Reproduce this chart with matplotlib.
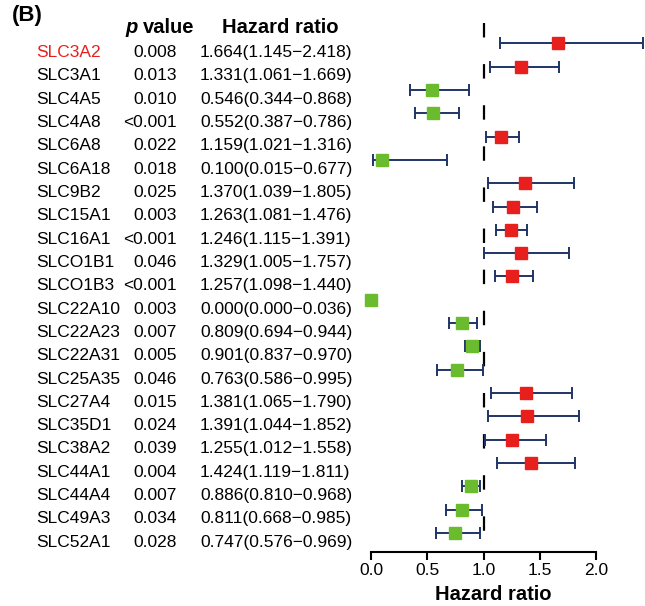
import matplotlib
matplotlib.use("Agg")
import matplotlib.pyplot as plt
from matplotlib.transforms import blended_transform_factory

plt.rcParams['font.family'] = ['Liberation Sans', 'DejaVu Sans']

genes = ["SLC3A2", "SLC3A1", "SLC4A5", "SLC4A8", "SLC6A8", "SLC6A18", "SLC9B2",
         "SLC15A1", "SLC16A1", "SLCO1B1", "SLCO1B3", "SLC22A10", "SLC22A23",
         "SLC22A31", "SLC25A35", "SLC27A4", "SLC35D1", "SLC38A2", "SLC44A1",
         "SLC44A4", "SLC49A3", "SLC52A1"]
pvals = ["0.008", "0.013", "0.010", "<0.001", "0.022", "0.018", "0.025", "0.003",
         "<0.001", "0.046", "<0.001", "0.003", "0.007", "0.005", "0.046", "0.015",
         "0.024", "0.039", "0.004", "0.007", "0.034", "0.028"]
hr = [1.664, 1.331, 0.546, 0.552, 1.159, 0.100, 1.370, 1.263, 1.246, 1.329, 1.257,
      0.000, 0.809, 0.901, 0.763, 1.381, 1.391, 1.255, 1.424, 0.886, 0.811, 0.747]
lo = [1.145, 1.061, 0.344, 0.387, 1.021, 0.015, 1.039, 1.081, 1.115, 1.005, 1.098,
      0.000, 0.694, 0.837, 0.586, 1.065, 1.044, 1.012, 1.119, 0.810, 0.668, 0.576]
hi = [2.418, 1.669, 0.868, 0.786, 1.316, 0.677, 1.805, 1.476, 1.391, 1.757, 1.440,
      0.036, 0.944, 0.970, 0.995, 1.790, 1.852, 1.558, 1.811, 0.968, 0.985, 0.969]
highlight = ["SLC3A2"]
xticks = [0.0, 0.5, 1.0, 1.5, 2.0]

W, H = 645, 606
fig = plt.figure(figsize=(W / 100, H / 100), dpi=100)

# axes: pixel x 360..645, y 23..552
px0, px1 = 360, 645
py_top, py_bot = 23, 552
ax = fig.add_axes([px0 / W, 1 - py_bot / H, (px1 - px0) / W, (py_bot - py_top) / H])
x_per_px = 1 / 112.5
x0_px = 371
ax.set_xlim((px0 - x0_px) * x_per_px, (px1 - x0_px) * x_per_px)
row0_px, row_sp = 43.3, 23.32
ax.set_ylim((py_bot - row0_px) / row_sp, (py_top - row0_px) / row_sp)

RED = "#E8201D"
GREEN = "#6BBB2E"
NAVY = "#1F3466"

n = len(genes)
for i in range(n):
    c = RED if hr[i] > 1 else GREEN
    ax.errorbar([hr[i]], [i], xerr=[[hr[i] - lo[i]], [hi[i] - hr[i]]], fmt='none',
                ecolor=NAVY, elinewidth=1.4, capsize=4, capthick=1.4, clip_on=False, zorder=2)
    ax.plot([hr[i]], [i], marker='s', ms=8.6, color=c, mec=c, linestyle='none',
            clip_on=False, zorder=3)

ln, = ax.plot([1, 1], [(py_top - row0_px) / row_sp, (py_bot - row0_px) / row_sp],
              color='black', lw=1.6, zorder=1, clip_on=False)
ln.set_dashes((6.5, 12))

for s in ['top', 'right', 'left']:
    ax.spines[s].set_visible(False)
ax.spines['bottom'].set_bounds(0, 2)
ax.spines['bottom'].set_linewidth(1.5)
ax.set_yticks([])
ax.set_xticks(xticks)
ax.set_xticklabels([f"{t:.1f}" for t in xticks], fontsize=12.5)
ax.tick_params(axis='x', direction='out', length=6, width=1.5, pad=2)
ax.patch.set_alpha(0)

tr = blended_transform_factory(fig.transFigure, ax.transData)
fs = 12.5
hfs = 14.5
for i in range(n):
    y = i + 0.59
    ax.text(36 / W, y, genes[i], transform=tr, fontsize=fs, va='baseline', ha='left',
            color=RED if genes[i] in highlight else 'black')
    ax.text(177 / W, y, pvals[i], transform=tr, fontsize=fs, va='baseline', ha='right')
    ax.text(200 / W, y, f"{hr[i]:.3f}({lo[i]:.3f}\u2212{hi[i]:.3f})", transform=tr,
            fontsize=fs, va='baseline', ha='left')

yh = (33 - row0_px) / row_sp
ax.text(125 / W, yh, "p", transform=tr, fontsize=hfs, va='baseline', ha='left',
        fontweight='bold', fontstyle='italic')
ax.text(194 / W, yh, "value", transform=tr, fontsize=hfs, va='baseline', ha='right',
        fontweight='bold')
ax.text(280 / W, yh, "Hazard ratio", transform=tr, fontsize=hfs, va='baseline',
        ha='center', fontweight='bold')
fig.text(12 / W, 1 - 21 / H, "(B)", fontsize=16, fontweight='bold', va='baseline', ha='left')
fig.text(493 / W, 1 - 600 / H, "Hazard ratio", fontsize=hfs, fontweight='bold',
         va='baseline', ha='center')

fig.savefig("out.png", dpi=100)
